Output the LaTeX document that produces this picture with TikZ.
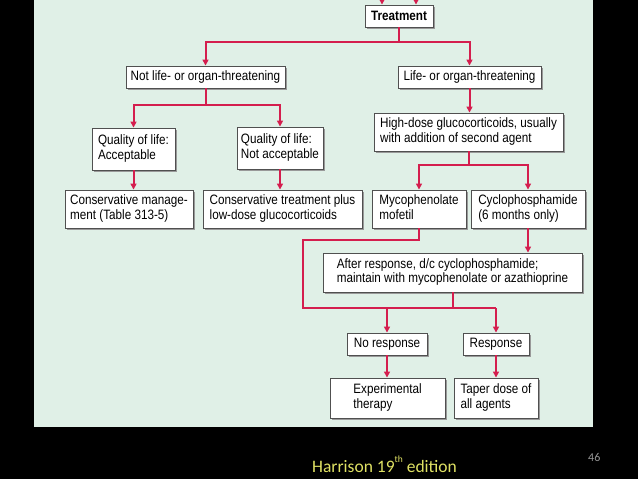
\documentclass[tikz,border=0pt]{standalone}
\usepackage{fontspec}
\usetikzlibrary{arrows.meta,shadows,calc}
\newfontfamily\boxfont[FakeStretch=0.86]{Liberation Sans}
\newfontfamily\capfont{Carlito}
\definecolor{panel}{RGB}{224,240,231}
\definecolor{redline}{RGB}{212,30,78}
\definecolor{boxline}{RGB}{80,80,80}
\definecolor{capyellow}{RGB}{224,226,100}
\definecolor{pagegrey}{RGB}{150,150,150}
\newcommand{\twolines}[2]{\begin{tabular}{@{}l@{}}#1\\#2\end{tabular}}
\tikzset{
  box/.style={draw=boxline, line width=0.9pt, fill=white, inner sep=0pt,
    font=\boxfont\fontsize{13.6}{14.5}\selectfont,
    drop shadow={shadow xshift=2pt, shadow yshift=-2pt, fill=black!40, opacity=1}},
  link/.style={draw=redline, line width=2pt},
  arr/.style={link, -{Triangle[length=6pt,width=6pt]}},
}
\begin{document}
\begin{tikzpicture}[x=1pt,y=-1pt]
\useasboundingbox (0,0) rectangle (638,479);
\fill[black] (0,0) rectangle (638,479);
\fill[panel] (34,0) rectangle (593,427);

% nodes
\node[box, minimum width=68pt, minimum height=22pt] (treat) at (399,16) {\bfseries Treatment};
\node[box, minimum width=159pt, minimum height=22pt] (notlife) at (205.5,77) {Not life- or organ-threatening};
\node[box, minimum width=143pt, minimum height=22pt] (life) at (469.5,77) {Life- or organ-threatening};
\node[box, minimum width=83pt, minimum height=42pt] (qa) at (133.5,149) {\twolines{Quality of life:}{Acceptable}};
\node[box, minimum width=86pt, minimum height=42pt] (qn) at (280,148) {\twolines{Quality of life:}{Not acceptable}};
\node[box, minimum width=128pt, minimum height=38pt] (cm) at (129,209) {\twolines{Conservative manage-}{ment (Table 313-5)}};
\node[box, minimum width=159pt, minimum height=38pt] (ct) at (282.5,209) {\twolines{Conservative treatment plus}{low-dose glucocorticoids}};
\node[box, minimum width=189pt, minimum height=38pt] (hd) at (468.5,132) {\twolines{High-dose glucocorticoids, usually}{with addition of second agent}};
\node[box, minimum width=94pt, minimum height=38pt] (myco) at (419,209) {\twolines{Mycophenolate}{mofetil}};
\node[box, minimum width=114pt, minimum height=38pt] (cyclo) at (528,209) {\twolines{Cyclophosphamide}{(6 months only)}};
\node[box, minimum width=259pt, minimum height=39pt] (after) at (452.5,272.5) {\twolines{After response, d/c cyclophosphamide;}{maintain with mycophenolate or azathioprine}};
\node[box, minimum width=80pt, minimum height=22pt] (nr) at (387,344) {No response};
\node[box, minimum width=66pt, minimum height=22pt] (resp) at (496,344) {Response};
\node[box, minimum width=115pt, minimum height=40pt] (exp) at (387.5,398) {\twolines{Experimental}{therapy}};
\node[box, minimum width=84pt, minimum height=40pt] (taper) at (496,398) {\twolines{Taper dose of}{all agents}};

% connectors
\coordinate (in1) at (382,0);
\coordinate (in2) at (416,0);
\draw[arr] (in1) -- (in1 |- treat.north);
\draw[arr] (in2) -- (in2 |- treat.north);
\draw[link] (treat.south) -- ++(0,15) coordinate (tj);
\draw[arr] (tj) -| (notlife.north);
\draw[arr] (tj) -| (life.north);
\draw[link] (notlife.south) -- ++(0,17) coordinate (nj);
\draw[arr] (nj) -| (qa.north);
\draw[arr] (nj) -| (qn.north);
\draw[arr] (qa.south) -- (qa.south |- cm.north);
\draw[arr] (qn.south) -- (qn.south |- ct.north);
\draw[arr] (life.south) -- (life.south |- hd.north);
\draw[link] (hd.south) -- ++(0,14) coordinate (hj);
\draw[arr] (hj) -| (myco.north);
\draw[arr] (hj) -| (cyclo.north);
\draw[arr] (cyclo.south) -- (cyclo.south |- after.north);
\coordinate (j) at (303,308);
\draw[link] (myco.south) -- ++(0,12) -| (j) -- (resp.north |- j);
\draw[link] (after.south) -- (after.south |- j);
\draw[arr] (nr.north |- j) -- (nr.north);
\draw[arr] (resp.north |- j) -- (resp.north);
\draw[arr] (nr.south) -- (nr.south |- exp.north);
\draw[arr] (resp.south) -- (resp.south |- taper.north);

% caption
\node[anchor=base west, inner sep=0pt, text=capyellow, font=\capfont\fontsize{17.5}{20}\selectfont] (cap) at (312,472) {Harrison 19\raisebox{0.55em}{\fontsize{9.5}{10}\selectfont th} edition};
\node[anchor=base west, inner sep=0pt, text=pagegrey, font=\capfont\fontsize{12}{14}\selectfont] (pg) at (588,461) {46};
\end{tikzpicture}
\end{document}
